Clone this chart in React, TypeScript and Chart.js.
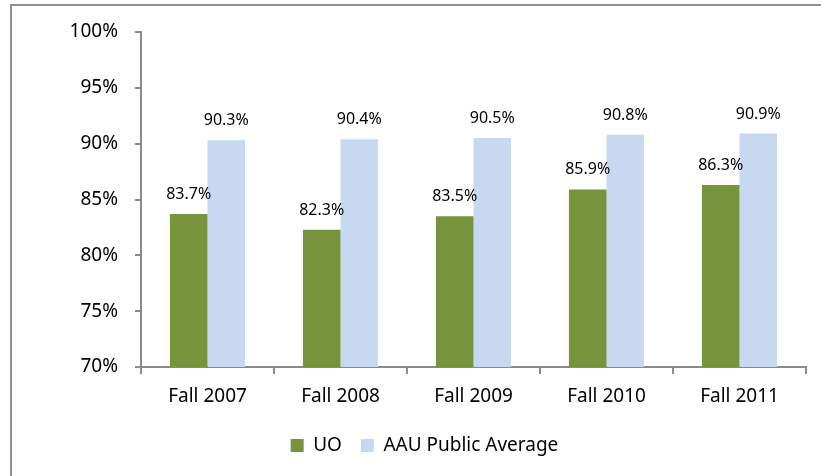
import React, { useEffect, useRef } from "react";
import { Chart, registerables } from "chart.js";

Chart.register(...registerables);

const categories = ["Fall 2007", "Fall 2008", "Fall 2009", "Fall 2010", "Fall 2011"];
const uoValues = [83.7, 82.3, 83.5, 85.9, 86.3];
const aauValues = [90.3, 90.4, 90.5, 90.8, 90.9];
const seriesNames = ["UO", "AAU Public Average"];
const yMin = 70;
const yMax = 100;
const yStep = 5;

const FONT = "'Noto Sans', 'Open Sans', sans-serif";

const dataLabelPlugin = {
  id: "dataLabels",
  afterDatasetsDraw(chart: any) {
    const ctx = chart.ctx;
    ctx.save();
    ctx.font = `16px ${FONT}`;
    ctx.fillStyle = "#000";
    ctx.textAlign = "center";
    ctx.textBaseline = "alphabetic";
    chart.data.datasets.forEach((ds: any, i: number) => {
      const meta = chart.getDatasetMeta(i);
      meta.data.forEach((el: any, j: number) => {
        ctx.fillText(ds.data[j].toFixed(1) + "%", el.x, el.y - 15);
      });
    });
    ctx.restore();
  },
};

export default function App() {
  const ref = useRef<HTMLCanvasElement | null>(null);
  useEffect(() => {
    if (!ref.current) return;
    const axisColor = "#8a8a8a";
    const chart = new Chart(ref.current, {
      type: "bar",
      data: {
        labels: categories,
        datasets: [
          {
            label: seriesNames[0],
            data: uoValues,
            backgroundColor: "#77933C",
            categoryPercentage: 0.565,
            barPercentage: 1,
          },
          {
            label: seriesNames[1],
            data: aauValues,
            backgroundColor: "#C6D9F1",
            categoryPercentage: 0.565,
            barPercentage: 1,
          },
        ],
      },
      options: {
        animation: false,
        responsive: false,
        maintainAspectRatio: false,
        layout: { padding: { left: 43, right: 15, top: 32, bottom: 11 } },
        plugins: {
          tooltip: { enabled: false },
          legend: {
            position: "bottom",
            labels: {
              boxWidth: 13,
              boxHeight: 13,
              padding: 19,
              color: "#000",
              font: { family: FONT, size: 19 },
            },
          },
        },
        scales: {
          x: {
            grid: {
              drawOnChartArea: false,
              drawTicks: true,
              tickLength: 7,
              color: axisColor,
              lineWidth: 2,
              offset: true,
            },
            border: { display: true, color: axisColor, width: 2 },
            ticks: {
              color: "#000",
              font: { family: FONT, size: 19 },
              padding: 11,
            },
            afterFit(scale: any) {
              scale.height = 50;
            },
          },
          y: {
            min: yMin,
            max: yMax,
            grid: {
              drawOnChartArea: false,
              drawTicks: true,
              tickLength: 6,
              color: axisColor,
              lineWidth: 2,
            },
            border: { display: true, color: axisColor, width: 2 },
            ticks: {
              stepSize: yStep,
              color: "#000",
              font: { family: FONT, size: 19 },
              padding: 17,
              callback: (v: any) => v + "%",
            },
            afterFit(scale: any) {
              scale.width = 98;
            },
          },
        },
      },
      plugins: [dataLabelPlugin],
    } as any);
    return () => chart.destroy();
  }, []);

  return (
    <div
      style={{
        position: "fixed",
        left: 0,
        top: 0,
        width: 821,
        height: 476,
        overflow: "hidden",
        background: "#fff",
      }}
    >
      <div
        style={{
          position: "absolute",
          left: 10,
          top: 4,
          width: 900,
          height: 600,
          border: "2px solid #8f8f8f",
        }}
      />
      <canvas
        ref={ref}
        width={821}
        height={476}
        style={{ position: "absolute", left: 0, top: 0, width: 821, height: 476 }}
      />
    </div>
  );
}
